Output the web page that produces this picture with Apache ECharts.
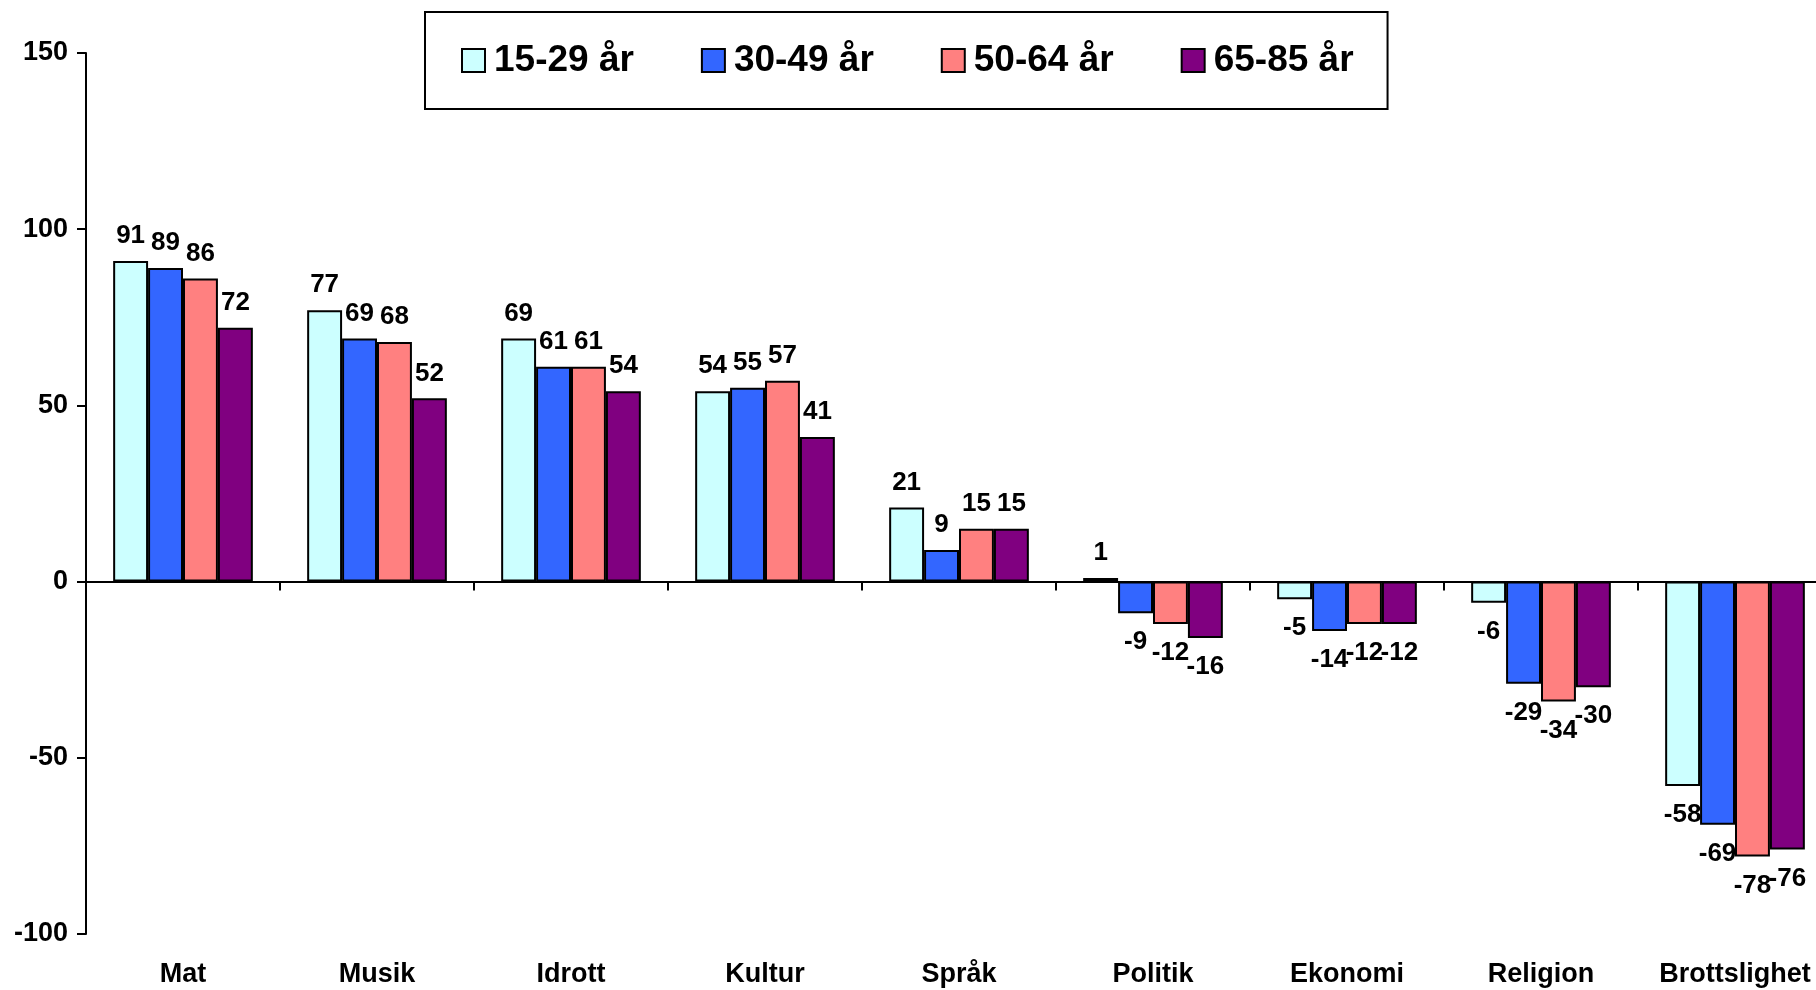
<!DOCTYPE html>
<html>
<head>
<meta charset="utf-8">
<script src="https://cdn.jsdelivr.net/npm/echarts@6/dist/echarts.min.js"></script>
<style>
html,body{margin:0;padding:0;background:#fff;}
#chart{width:1816px;height:990px;}
</style>
</head>
<body>
<div id="chart"></div>
<script>
const categories = ['Mat','Musik','Idrott','Kultur','Språk','Politik','Ekonomi','Religion','Brottslighet'];
const seriesNames = ['15-29 år','30-49 år','50-64 år','65-85 år'];
const age15_29 = [91, 77, 69, 54, 21, 1, -5, -6, -58];
const age30_49 = [89, 69, 61, 55, 9, -9, -14, -29, -69];
const age50_64 = [86, 68, 61, 57, 15, -12, -12, -34, -78];
const age65_85 = [72, 52, 54, 41, 15, -16, -12, -30, -76];
const yTicks = { min: -100, max: 150, interval: 50 };

const colors = ['#CCFFFF', '#3366FF', '#FF8080', '#800080'];
const allValues = [age15_29, age30_49, age50_64, age65_85];
const font = 'Liberation Sans, Arial, sans-serif';

const series = allValues.map((vals, i) => ({
  name: seriesNames[i],
  type: 'bar',
  xAxisIndex: 0,
  barGap: '0%',
  barCategoryGap: '28%',
  itemStyle: { color: colors[i], borderColor: '#000', borderWidth: 2 },
  data: vals.map(v => ({
    value: v,
    label: v >= 0 ? { position: 'top', distance: 12 } : { position: 'bottom', distance: 16 }
  })),
  label: {
    show: true,
    color: '#000',
    fontFamily: font,
    fontWeight: 'bold',
    fontSize: 26
  }
}));

const chart = echarts.init(document.getElementById('chart'), null, { renderer: 'canvas' });
chart.setOption({
  animation: false,
  backgroundColor: '#fff',
  grid: { left: 86, top: 53, bottom: 56, width: 1746, containLabel: false, outerBoundsMode: 'none' },
  legend: {
    data: seriesNames,
    left: 425,
    top: 12,
    icon: 'rect',
    itemWidth: 23,
    itemHeight: 23,
    itemGap: 67,
    padding: [30, 34, 30, 36],
    borderColor: '#000',
    borderWidth: 2,
    backgroundColor: '#fff',
    textStyle: { fontFamily: font, fontWeight: 'bold', fontSize: 37, color: '#000', padding: [0, 0, 0, 4] }
  },
  xAxis: [
    {
      type: 'category',
      data: categories,
      axisLine: { onZero: true, lineStyle: { color: '#000', width: 2 } },
      axisTick: { show: true, length: 9, lineStyle: { color: '#000', width: 2 } },
      axisLabel: { show: false },
      splitLine: { show: false }
    },
    {
      type: 'category',
      data: categories,
      position: 'bottom',
      axisLine: { show: false, onZero: false },
      axisTick: { show: false },
      axisLabel: { show: true, interval: 0, hideOverlap: false, margin: 27, color: '#000', fontFamily: font, fontWeight: 'bold', fontSize: 27 },
      splitLine: { show: false }
    }
  ],
  yAxis: {
    type: 'value',
    min: yTicks.min,
    max: yTicks.max,
    interval: yTicks.interval,
    axisLine: { show: true, lineStyle: { color: '#000', width: 2 } },
    axisTick: { show: true, length: 9, lineStyle: { color: '#000', width: 2 } },
    axisLabel: { margin: 18, color: '#000', fontFamily: font, fontWeight: 'bold', fontSize: 27 },
    splitLine: { show: false }
  },
  series: series
});
</script>
</body>
</html>
